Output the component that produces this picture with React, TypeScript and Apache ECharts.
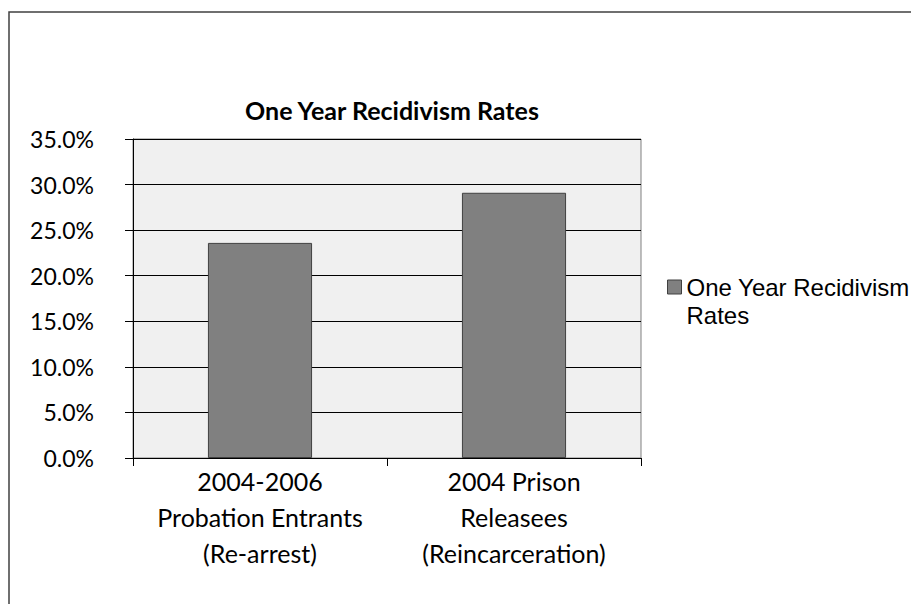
import React, { useEffect, useRef } from "react";
import * as echarts from "echarts";

const categories = [
  "2004-2006\nProbation Entrants\n(Re-arrest)",
  "2004 Prison\nReleasees\n(Reincarceration)",
];
const rates = [0.236, 0.291];
const seriesName = "One Year Recidivism Rates";
const titleText = "One Year Recidivism Rates";

export default function App() {
  const ref = useRef<HTMLDivElement>(null);
  useEffect(() => {
    document.body.style.margin = "0";
    document.body.style.overflow = "hidden";
    const chart = echarts.init(ref.current!, null, { renderer: "svg" });
    chart.setOption({
      animation: false,
      backgroundColor: "#ffffff",
      graphic: [
        {
          type: "rect",
          shape: { x: 9, y: 12, width: 1000, height: 1000 },
          style: { fill: "none", stroke: "#404040", lineWidth: 1.5 },
          silent: true,
        },
        {
          type: "text",
          x: 392,
          y: 110,
          style: {
            text: titleText,
            font: "bold 25px Lato",
            fill: "#000",
            textAlign: "center",
            textVerticalAlign: "middle",
          },
        },
      ],
      legend: {
        left: 667,
        top: 245,
        padding: 0,
        orient: "vertical",
        icon: "rect",
        itemWidth: 14,
        itemHeight: 14,
        formatter: () => "\nOne Year Recidivism\nRates",
        itemStyle: { borderColor: "#404040", borderWidth: 1 },
        textStyle: {
          fontFamily: "Liberation Sans",
          fontSize: 24,
          lineHeight: 28,
          color: "#000",
        },
      },
      grid: {
        left: 133,
        top: 139,
        right: 270,
        bottom: 146,
        show: true,
        backgroundColor: "#f0f0f0",
        borderColor: "#808080",
        borderWidth: 1,
      },
      xAxis: {
        type: "category",
        data: categories,
        axisLine: { lineStyle: { color: "#000", width: 1 } },
        axisTick: { show: true, length: 8, lineStyle: { color: "#000" } },
        axisLabel: {
          fontFamily: "Lato",
          fontSize: 25,
          lineHeight: 36,
          color: "#000",
          margin: 5,
          interval: 0,
        },
      },
      yAxis: {
        type: "value",
        min: 0,
        max: 0.35,
        interval: 0.05,
        axisLine: { show: true, lineStyle: { color: "#000", width: 1 } },
        axisTick: { show: true, length: 8, lineStyle: { color: "#000" } },
        splitLine: { show: true, lineStyle: { color: "#000", width: 1 } },
        axisLabel: {
          fontFamily: "Lato",
          fontSize: 23,
          color: "#000",
          margin: 39,
          formatter: (v: number) => (v * 100).toFixed(1) + "%",
        },
      },
      series: [
        {
          name: seriesName,
          type: "bar",
          data: rates,
          barWidth: "41%",
          itemStyle: { color: "#808080", borderColor: "#404040", borderWidth: 1 },
        },
      ],
    });
    return () => chart.dispose();
  }, []);
  return <div ref={ref} style={{ width: 911, height: 604 }} />;
}
